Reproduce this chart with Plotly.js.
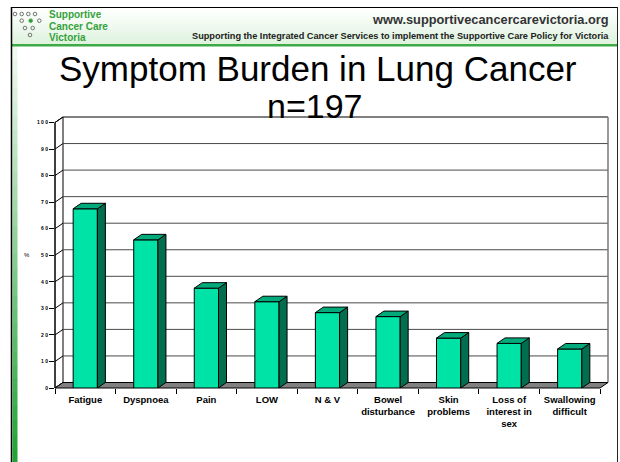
<!DOCTYPE html>
<html>
<head>
<meta charset="utf-8">
<script src="https://cdn.plot.ly/plotly-3.0.1.min.js"></script>
<style>html,body{margin:0;padding:0;background:#fff;}#chart{width:620px;height:462px;}</style>
</head>
<body>
<div id="chart"></div>
<script>
// ---- data ----
const categories = ['Fatigue', 'Dyspnoea', 'Pain', 'LOW', 'N &amp; V', 'Bowel<br>disturbance', 'Skin<br>problems', 'Loss of<br>interest in<br>sex', 'Swallowing<br>difficult'];
const percent = [67.5, 55.8, 37.6, 32.5, 28.4, 26.9, 18.8, 16.8, 14.7];
const yTickVals = [0, 10, 20, 30, 40, 50, 60, 70, 80, 90, 100];
const yTickText = ['0', '1 0', '2 0', '3 0', '4 0', '5 0', '6 0', '7 0', '8 0', '9 0', '1 0 0'];
const titleLine1 = 'Symptom Burden in Lung Cancer';
const titleLine2 = 'n=197';
const yAxisLabel = '%';
const headerUrl = 'www.supportivecancercarevictoria.org';
const headerTag = 'Supporting the Integrated Cancer Services to implement the Supportive Care Policy for Victoria';
const logoLines = ['Supportive', 'Cancer Care', 'Victoria'];

// ---- geometry (pixels) ----
const W = 620, H = 462;
const M = {l: 55, r: 12, t: 117, b: 74};
const plotW = W - M.l - M.r, plotH = H - M.t - M.b;
const FX0 = 55, FX1 = 600, FY0 = 388, FYT = 122.5, DX = 8, DY = 5.5;
const xp = px => (px - M.l) / plotW;
const yp = py => (H - M.b - py) / plotH;
const yFront = v => FY0 - v / 100 * (FY0 - FYT);
const n = categories.length;
const pxPerCat = (FX1 - FX0) / n;
const pxPerUnit = (FY0 - FYT) / 100;
const dxD = DX / pxPerCat, dyD = DY / pxPerUnit;
const barW = 0.4;

const cFront = '#00E3A6', cTop = '#00AA7A', cSide = '#006E4F';
const FONT = 'Liberation Sans, Arial, sans-serif';

const idx = categories.map((c, i) => i);
const traces = [{
  type: 'bar', x: idx, y: percent, width: barW,
  marker: {color: cFront, line: {color: '#000', width: 1}},
  hoverinfo: 'skip', showlegend: false
}];
percent.forEach((v, i) => {
  const xl = i - barW / 2, xr = i + barW / 2;
  traces.push({type: 'scatter', mode: 'lines', fill: 'toself', fillcolor: cSide,
    x: [xr, xr + dxD, xr + dxD, xr, xr], y: [0, dyD, v + dyD, v, 0],
    line: {color: '#000', width: 1}, hoverinfo: 'skip', showlegend: false});
  traces.push({type: 'scatter', mode: 'lines', fill: 'toself', fillcolor: cTop,
    x: [xl, xr, xr + dxD, xl + dxD, xl], y: [v, v, v + dyD, v + dyD, v],
    line: {color: '#000', width: 1}, hoverinfo: 'skip', showlegend: false});
});

const shapes = [];
const P = (pts) => 'M' + pts.map(p => xp(p[0]) + ',' + yp(p[1])).join(' L') + ' Z';
// header gradient
const hTop = 8, hBot = 44, steps = 12;
for (let k = 0; k < steps; k++) {
  const t = k / (steps - 1);
  const g = [255 - t * 32, 255 - t * 12, 255 - t * 32].map(Math.round);
  shapes.push({type: 'rect', xref: 'paper', yref: 'paper', layer: 'below',
    x0: xp(12), x1: xp(617), y0: yp(hTop + (hBot - hTop) * k / steps), y1: yp(hTop + (hBot - hTop) * (k + 1) / steps),
    fillcolor: `rgb(${g[0]},${g[1]},${g[2]})`, line: {width: 0}});
}
// green header line
shapes.push({type: 'rect', xref: 'paper', yref: 'paper', layer: 'below',
  x0: xp(12), x1: xp(617), y0: yp(44), y1: yp(46.5), fillcolor: '#3DAA45', line: {width: 0}});
// left green gradient bar
const lbTop = 47, lbBot = 462, lsteps = 30;
for (let k = 0; k < lsteps; k++) {
  const t = k / (lsteps - 1);
  const r = Math.round(240 - t * 210), g = Math.round(248 - t * 83), b = Math.round(240 - t * 190);
  shapes.push({type: 'rect', xref: 'paper', yref: 'paper', layer: 'below',
    x0: xp(12.5), x1: xp(17.5), y0: yp(lbTop + (lbBot - lbTop) * k / lsteps), y1: yp(lbTop + (lbBot - lbTop) * (k + 1) / lsteps + 0.5),
    fillcolor: `rgb(${r},${g},${b})`, line: {width: 0}});
}
// frame lines
shapes.push({type: 'line', xref: 'paper', yref: 'paper', x0: xp(11.5), x1: xp(11.5), y0: yp(7), y1: yp(462), line: {color: '#000', width: 1.5}});
shapes.push({type: 'line', xref: 'paper', yref: 'paper', x0: xp(11), x1: xp(617.5), y0: yp(7.5), y1: yp(7.5), line: {color: '#000', width: 1}});
shapes.push({type: 'line', xref: 'paper', yref: 'paper', x0: xp(617.5), x1: xp(617.5), y0: yp(7), y1: yp(462), line: {color: '#222', width: 1}});

// left wall
shapes.push({type: 'path', xref: 'paper', yref: 'paper', layer: 'below',
  path: P([[FX0, FY0], [FX0, FYT], [FX0 + DX, FYT - DY], [FX0 + DX, FY0 - DY]]),
  fillcolor: '#fff', line: {color: '#000', width: 1}});
// back wall gridlines + left wall diagonals
yTickVals.forEach(v => {
  if (v > 0) {
    shapes.push({type: 'line', xref: 'paper', yref: 'paper', layer: 'below',
      x0: xp(FX0 + DX), x1: xp(FX1 + DX), y0: yp(yFront(v) - DY), y1: yp(yFront(v) - DY),
      line: {color: v === 100 ? '#000' : '#4a4a4a', width: 1}});
  }
  shapes.push({type: 'line', xref: 'paper', yref: 'paper', layer: 'below',
    x0: xp(FX0), x1: xp(FX0 + DX), y0: yp(yFront(v)), y1: yp(yFront(v) - DY),
    line: {color: '#000', width: 1}});
});
// back wall right edge
shapes.push({type: 'line', xref: 'paper', yref: 'paper', layer: 'below',
  x0: xp(FX1 + DX), x1: xp(FX1 + DX), y0: yp(FY0 - DY), y1: yp(FYT - DY), line: {color: '#777', width: 1.5}});
// front axis line
shapes.push({type: 'line', xref: 'paper', yref: 'paper', layer: 'below',
  x0: xp(FX0), x1: xp(FX0), y0: yp(FY0), y1: yp(FYT), line: {color: '#000', width: 1}});
// floor
shapes.push({type: 'path', xref: 'paper', yref: 'paper', layer: 'below',
  path: P([[FX0, FY0], [FX1, FY0], [FX1 + DX, FY0 - DY], [FX0 + DX, FY0 - DY]]),
  fillcolor: '#808080', line: {color: '#000', width: 1}});

// logo circles
const logoDots = [[15,14,0],[21.7,14,0],[28.3,14,0],[35,14,0],[21.7,20.7,0],[30.7,20.7,1],[39.3,20.7,0],[25,28,0],[32.7,28,0],[30,35,0]];
logoDots.forEach(d => {
  shapes.push({type: 'circle', xref: 'paper', yref: 'paper',
    x0: xp(d[0] - 1.8), x1: xp(d[0] + 1.8), y0: yp(d[1] - 1.8), y1: yp(d[1] + 1.8),
    fillcolor: d[2] ? '#2E9E3A' : 'rgba(0,0,0,0)', line: {color: d[2] ? '#2E9E3A' : '#555', width: 0.8}});
});

const ann = [];
ann.push({text: titleLine1, xref: 'paper', yref: 'paper', x: xp(318), y: yp(68), xanchor: 'center', yanchor: 'middle', showarrow: false,
  font: {family: FONT, size: 35, color: '#000'}});
ann.push({text: titleLine2, xref: 'paper', yref: 'paper', x: xp(315), y: yp(106), xanchor: 'center', yanchor: 'middle', showarrow: false,
  font: {family: FONT, size: 34, color: '#000'}});
ann.push({text: yAxisLabel, xref: 'paper', yref: 'paper', x: xp(27), y: yp(255), xanchor: 'center', yanchor: 'middle', showarrow: false,
  font: {family: FONT, size: 6, color: '#000'}});
ann.push({text: '<b>' + headerUrl + '</b>', xref: 'paper', yref: 'paper', x: xp(611), y: yp(20), xanchor: 'right', yanchor: 'middle', showarrow: false,
  font: {family: FONT, size: 12.8, color: '#333'}});
ann.push({text: '<b>' + headerTag + '</b>', xref: 'paper', yref: 'paper', x: xp(611), y: yp(36), xanchor: 'right', yanchor: 'middle', showarrow: false,
  font: {family: FONT, size: 9.2, color: '#222'}});
logoLines.forEach((t, k) => {
  ann.push({text: '<b>' + t + '</b>', xref: 'paper', yref: 'paper', x: xp(47), y: yp(14 + 12 * k), xanchor: 'left', yanchor: 'middle', showarrow: false,
    font: {family: FONT, size: 10, color: '#35A23C'}});
});

const layout = {
  width: W, height: H, margin: {l: M.l, r: M.r, t: M.t, b: M.b, pad: 0},
  paper_bgcolor: '#fff', plot_bgcolor: 'rgba(0,0,0,0)', showlegend: false,
  font: {family: FONT, color: '#000'},
  xaxis: {domain: [0, (FX1 - FX0) / plotW], range: [-0.5, n - 0.5], tickvals: idx, ticktext: categories,
    ticks: '', showgrid: false, zeroline: false, showline: false, fixedrange: true, ticklabelstandoff: 4,
    tickfont: {family: FONT, size: 9.5, color: '#000', weight: 'bold'},
    minor: {tickvals: idx.concat([n]).map(i => i - 0.5), ticks: 'outside', ticklen: 5, tickcolor: '#000', tickwidth: 1, showgrid: false}},
  yaxis: {domain: [0, (FY0 - FYT) / plotH], range: [0, 100], tickvals: yTickVals, ticktext: yTickText,
    ticks: 'outside', ticklen: 5, tickcolor: '#000', tickwidth: 1, showgrid: false, zeroline: false, showline: false, fixedrange: true,
    tickfont: {family: FONT, size: 5, color: '#000', weight: 'bold'}},
  shapes: shapes, annotations: ann, bargap: 0
};
Plotly.newPlot('chart', traces, layout, {displayModeBar: false, staticPlot: true});
</script>
</body>
</html>
